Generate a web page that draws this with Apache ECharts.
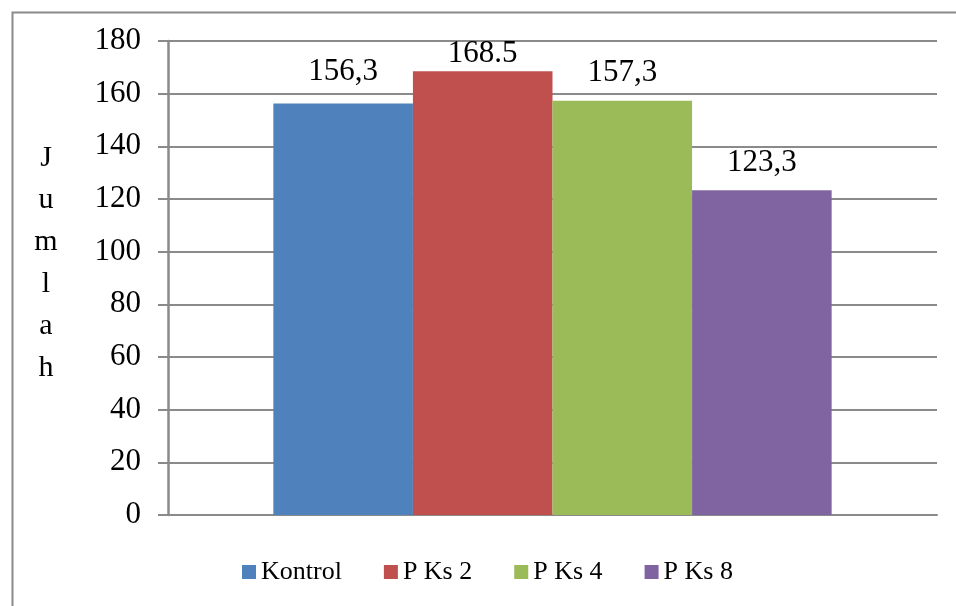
<!DOCTYPE html>
<html>
<head>
<meta charset="utf-8">
<script src="https://cdn.jsdelivr.net/npm/echarts@6/dist/echarts.min.js"></script>
<style>
  html, body { margin: 0; padding: 0; background: #fff; }
  #chart { width: 956px; height: 606px; }
</style>
</head>
<body>
<div id="chart"></div>
<script>
// Treatment groups and their counts
const seriesNames = ['Kontrol', 'P Ks 2', 'P Ks 4', 'P Ks 8'];
const seriesValues = [156.3, 168.5, 157.3, 123.3];
const decimalMarks = [',', '.', ',', ','];
const seriesColors = ['#4F81BD', '#C0504D', '#9BBB59', '#8064A2'];
const labelShift = [[0, -4], [0, 10], [0, 0], [0, 0]];
const yTicks = { min: 0, max: 180, interval: 20 };
const yTitle = 'Jumlah';

const FONT = '"Liberation Serif", "Times New Roman", serif';
const AXIS_GRAY = '#8a8a8a';

const chart = echarts.init(document.getElementById('chart'));

const series = seriesNames.map((name, i) => ({
  name: name,
  type: 'bar',
  data: [seriesValues[i]],
  barGap: '0%',
  barCategoryGap: '27.4%',
  itemStyle: { color: seriesColors[i] },
  label: {
    show: true,
    position: 'top',
    distance: 12,
    offset: labelShift[i],
    fontFamily: FONT,
    fontSize: 31,
    color: '#000',
    formatter: (p) => p.value.toFixed(1).replace('.', decimalMarks[i])
  }
}));

chart.setOption({
  animation: false,
  backgroundColor: '#fff',
  grid: { left: 168, right: 19, top: 41, bottom: 91 },
  legend: {
    data: seriesNames,
    top: 559,
    left: 242,
    icon: 'rect',
    itemWidth: 14,
    itemHeight: 14,
    itemGap: 42,
    padding: 0,
    textStyle: { fontFamily: FONT, fontSize: 26, color: '#000' }
  },
  xAxis: {
    type: 'category',
    data: [''],
    axisLine: { show: true, lineStyle: { color: AXIS_GRAY, width: 2 } },
    axisTick: { show: false },
    axisLabel: { show: false }
  },
  yAxis: {
    type: 'value',
    min: yTicks.min,
    max: yTicks.max,
    interval: yTicks.interval,
    axisLine: { show: true, lineStyle: { color: AXIS_GRAY, width: 2.5 } },
    axisTick: { show: true, length: 10, lineStyle: { color: AXIS_GRAY, width: 2 } },
    axisLabel: { fontFamily: FONT, fontSize: 31, color: '#000', margin: 27 },
    splitLine: { show: true, lineStyle: { color: AXIS_GRAY, width: 2 } }
  },
  graphic: [
    {
      type: 'rect',
      left: 10, top: 10,
      shape: { width: 960, height: 620 },
      style: { fill: 'none', stroke: AXIS_GRAY, lineWidth: 2 },
      z: -10
    },
    {
      type: 'text',
      x: 46, y: 263,
      style: {
        text: yTitle.split('').join('\n'),
        fontFamily: FONT,
        fontSize: 30,
        lineHeight: 42,
        fill: '#000',
        align: 'center',
        verticalAlign: 'middle'
      }
    }
  ],
  series: series
});
</script>
</body>
</html>
